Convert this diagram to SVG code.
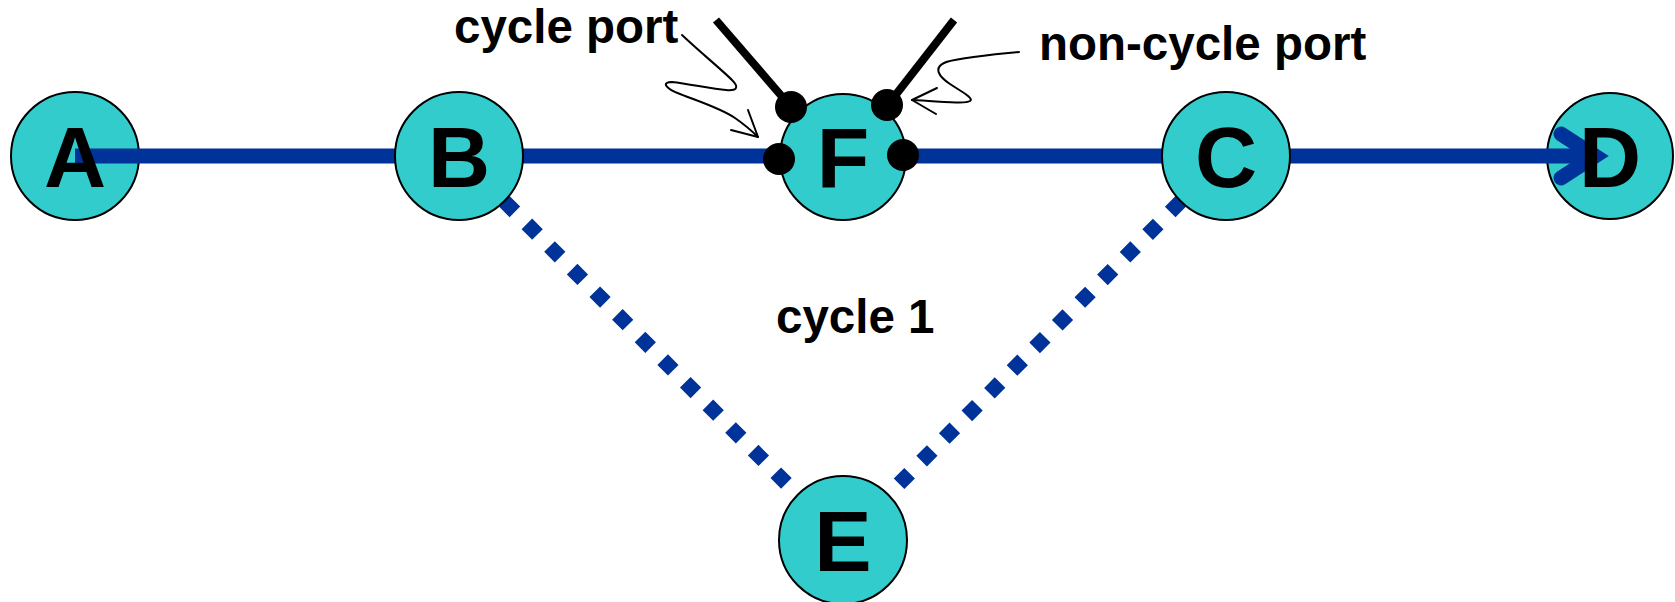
<svg xmlns="http://www.w3.org/2000/svg" width="1675" height="602" viewBox="0 0 1675 602">
<style>
.node{fill:#33CCCC;stroke:#000;stroke-width:2}
.lbl{font-family:"Liberation Sans",Arial,sans-serif;font-weight:bold;font-size:86px;text-anchor:middle;fill:#000}
.txt{font-family:"Liberation Sans",Arial,sans-serif;font-weight:bold;font-size:47.5px;fill:#000}
.edge{stroke:#003399;stroke-width:15;fill:none}
.dots{stroke:#003399;stroke-width:15;fill:none;stroke-dasharray:15 17}
.port{fill:#000}
.stub{stroke:#000;stroke-width:8;fill:none}
.note{stroke:#000;stroke-width:2;fill:none;stroke-linecap:round;stroke-linejoin:round}
</style>
<rect width="1675" height="602" fill="#fff"/>
<g id="node-A-bg"><circle class="node" cx="75" cy="156" r="64"/></g>
<g id="node-D-bg"><circle class="node" cx="1610" cy="156" r="63"/></g>
<g id="connectors">
<path class="dots" d="M459,156 L843,540"/>
<path class="dots" d="M1226,156 L843,540"/>
<path class="edge" d="M75,156 L1592,156"/>
<path class="edge" d="M1561,134 L1595,156 L1561,178" stroke-linecap="round" stroke-linejoin="miter"/>
</g>
<g id="node-A"><text class="lbl" x="75" y="187">A</text></g>
<g id="node-D"><text class="lbl" x="1610" y="187">D</text></g>
<g id="node-B"><circle class="node" cx="459" cy="156" r="64"/><text class="lbl" x="459" y="187">B</text></g>
<g id="node-C"><circle class="node" cx="1226" cy="156" r="64"/><text class="lbl" x="1226" y="187">C</text></g>
<g id="node-E"><circle class="node" cx="843" cy="540" r="64"/><text class="lbl" x="843" y="571">E</text></g>
<g id="node-F">
<line class="stub" x1="716" y1="20" x2="791" y2="107"/>
<line class="stub" x1="954" y1="20" x2="887" y2="106"/>
<circle class="node" cx="843" cy="157" r="63"/>
<text class="lbl" x="843" y="188">F</text>
<circle class="port" cx="791" cy="107" r="16"/>
<circle class="port" cx="887" cy="105" r="16"/>
<circle class="port" cx="779" cy="159" r="16"/>
<circle class="port" cx="903" cy="155" r="16"/>
</g>
<g id="label-cycle-port">
<text class="txt" x="454" y="43">cycle port</text>
<path class="note" d="M682,35 C700,52 722,70 732,80 C740,88 736,91 726,90 C712,89 690,84 672,82 C662,82 664,88 680,94 C700,102 720,108 735,118 C745,125 752,131 758,137"/>
<path class="note" d="M748,110 L758,137 L731,130"/>
</g>
<g id="label-non-cycle-port">
<text class="txt" x="1039" y="60">non-cycle port</text>
<path class="note" d="M1019,52 C990,55 955,58 944,63 C934,68 938,76 950,84 C962,92 974,98 970,101 C965,104 950,102 912,100"/>
<path class="note" d="M937,88 L912,100 L936,114"/>
</g>
<g id="label-cycle-1"><text class="txt" x="776" y="333">cycle 1</text></g>
</svg>
